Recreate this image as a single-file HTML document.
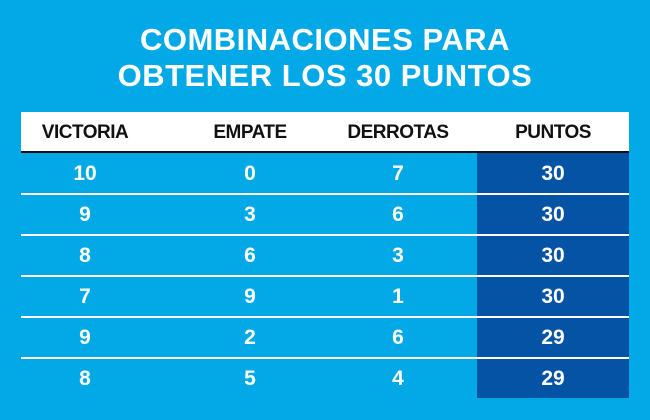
<!DOCTYPE html>
<html><head><meta charset="utf-8"><style>
body{margin:0;width:650px;height:420px;background:#03a9e7;font-family:"Liberation Sans",sans-serif;overflow:hidden;position:relative}
.t{position:absolute;left:0;width:650px;text-align:center;color:#fff;font-weight:bold;font-size:31px;letter-spacing:0.5px}
.hdr{position:absolute;left:21px;top:112px;width:608px;height:39px;background:#fff;border-bottom:2px solid #111}
.c{position:absolute;width:160px;margin-left:-80px;text-align:center;font-weight:bold}
.h{color:#111;font-size:19px;top:10px;letter-spacing:-0.5px}
.dark{position:absolute;left:477px;top:153px;width:152px;height:245px;background:#0553a5}
.line{position:absolute;left:21px;width:608px;height:2px;background:#fff}
.v{color:#fff;font-size:21px}
</style></head><body>
<div class="t" style="top:22px">COMBINACIONES PARA</div>
<div class="t" style="top:58px">OBTENER LOS 30 PUNTOS</div>
<div class="dark"></div>
<div class="hdr">
<div class="c h" style="left:64px">VICTORIA</div>
<div class="c h" style="left:229px">EMPATE</div>
<div class="c h" style="left:377px">DERROTAS</div>
<div class="c h" style="left:532px">PUNTOS</div>
</div>
<div id="rows"></div>
<script>
const victorias=[10,9,8,7,9,8];
const empates=[0,3,6,9,2,5];
const derrotas=[7,6,3,1,6,4];
const puntos=[30,30,30,30,29,29];
const cols=[85,250,398,553];
const root=document.getElementById('rows');
for(let i=0;i<victorias.length;i++){
  const top=153+i*41;
  if(i>0){
    const l=document.createElement('div');
    l.className='line';l.style.top=(top-1)+'px';
    
    
    root.appendChild(l);
  }
  const vals=[victorias[i],empates[i],derrotas[i],puntos[i]];
  vals.forEach((v,j)=>{
    const d=document.createElement('div');
    d.className='c v';d.textContent=v;
    d.style.left=cols[j]+'px';d.style.top=(top+9)+'px';
    
    
    root.appendChild(d);
  });
}
</script>
</body></html>
